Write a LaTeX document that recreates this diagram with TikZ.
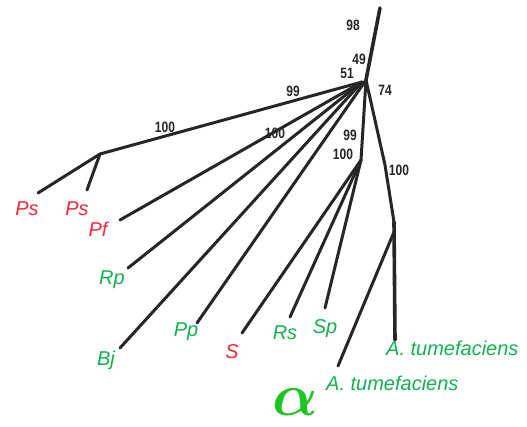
\documentclass[tikz,border=0pt]{standalone}
\usepackage{fontspec}
\setmainfont{Liberation Sans}
\definecolor{tred}{HTML}{F0283C}
\definecolor{tgreen}{HTML}{14B050}
\definecolor{agreen}{HTML}{22C422}
\definecolor{ink}{HTML}{262626}
\begin{document}
\begin{tikzpicture}[x=1pt,y=-1pt,
  br/.style={line width=3pt, draw=ink, line cap=round, line join=round},
  num/.style={font=\fontsize{15}{15}\selectfont\bfseries, inner sep=0pt, xscale=0.8, text=ink},
  redlab/.style={font=\fontsize{20}{20}\selectfont\itshape, inner sep=0pt, text=tred},
  grnlab/.style={font=\fontsize{20}{20}\selectfont\itshape, inner sep=0pt, text=tgreen},
  ]
\useasboundingbox (0,0) rectangle (527,426);
% internal points
\coordinate (root) at (380,8);
\coordinate (hub) at (366,80);
\coordinate (H) at (362,82);
\coordinate (psn) at (100,154);
\coordinate (snode) at (361,160);
\coordinate (r1) at (385,165);
\coordinate (r2) at (394,222);
\coordinate (r3) at (394,232);
% leaf ends
\coordinate (ps1e) at (38,193);
\coordinate (ps2e) at (87,190);
\coordinate (pfe) at (120,220);
\coordinate (rpe) at (128,268);
\coordinate (bje) at (120,348);
\coordinate (ppe) at (197,323);
\coordinate (se) at (242,333);
\coordinate (rse) at (290,317);
\coordinate (spe) at (325,308);
\coordinate (at1e) at (395,340);
\coordinate (at2e) at (338,366);
% branches
\draw[br, line width=3.6pt] (root) -- (hub);
\draw[br] (H) -- (psn);
\draw[br] (psn) -- (ps1e);
\draw[br] (psn) -- (ps2e);
\draw[br] (H) -- (pfe);
\draw[br] (H) -- (rpe);
\draw[br] (H) -- (bje);
\draw[br] (hub) -- (ppe);
\draw[br] (hub) -- (snode);
\draw[br] (snode) -- (se);
\draw[br] (snode) -- (rse);
\draw[br] (snode) -- (spe);
\draw[br] (hub) -- (r1) -- (r2);
\draw[br, line width=3.6pt] (r2) -- (at1e);
\draw[br] (r3) -- (at2e);
% support values
\node[num] (n98) at (353,25) {98};
\node[num] (n49) at (359,59) {49};
\node[num] (n51) at (347,73) {51};
\node[num] (n74) at (385,90) {74};
\node[num] (n99a) at (293,91) {99};
\node[num] (n100a) at (165,127) {100};
\node[num] (n100b) at (275,133) {100};
\node[num] (n99b) at (350,135) {99};
\node[num] (n100c) at (343,154) {100};
\node[num] (n100d) at (399,170) {100};
% leaf labels
\node[redlab] (ps1) at (27,209) {Ps};
\node[redlab] (ps2) at (77,209) {Ps};
\node[redlab] (pf) at (98,229) {Pf};
\node[grnlab] (rp) at (112,280) {Rp};
\node[grnlab] (bj) at (106,360) {Bj};
\node[grnlab] (pp) at (186,332) {Pp};
\node[redlab] (s) at (232,352) {S};
\node[grnlab] (rs) at (285,333) {Rs};
\node[grnlab] (sp) at (325,329) {Sp};
\node[grnlab, anchor=west] (at1) at (386,348) {A. tumefaciens};
\node[grnlab, anchor=west] (at2) at (326,383) {A. tumefaciens};
\node[inner sep=0pt, text=agreen, font=\boldmath, scale=6] (alpha) at (295,402) {$\alpha$};
\end{tikzpicture}
\end{document}
